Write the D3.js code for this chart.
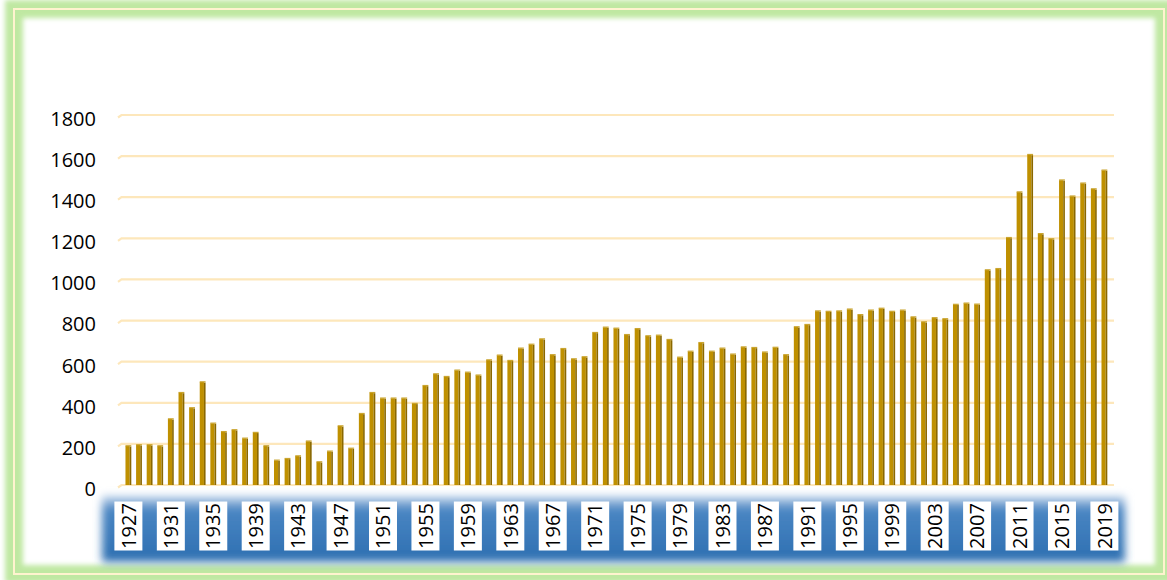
<!DOCTYPE html>
<html>
<head>
<meta charset="utf-8">
<script src="https://cdn.jsdelivr.net/npm/d3@7/dist/d3.min.js"></script>
<style>
  html, body { margin: 0; padding: 0; background: #ffffff; }
  svg { display: block; }
</style>
</head>
<body>
<div id="viz_container"></div>
<script>
// years shown on the axis, one bar each
var years = d3.range(1927, 2020);

// values, 1927 .. 2019
var counts = [
  190, 195, 195, 190, 321, 449, 375, 501, 300, 259,
  268, 227, 255, 190, 120, 128, 141, 213, 112, 164,
  287, 178, 347, 449, 422, 422, 422, 396, 483, 540,
  527, 558, 548, 534, 608, 631, 605, 665, 684, 710,
  633, 663, 613, 623, 741, 767, 762, 731, 760, 725,
  728, 707, 621, 650, 692, 650, 665, 636, 671, 668,
  646, 669, 633, 769, 780, 846, 844, 846, 855, 828,
  850, 859, 844, 850, 817, 793, 813, 808, 878, 884,
  879, 1046, 1052, 1203, 1425, 1607, 1222, 1197, 1483, 1405,
  1468, 1440, 1531
];

var yTicks = [0, 200, 400, 600, 800, 1000, 1200, 1400, 1600, 1800];
var xTickYears = years.filter(function (d) { return (d - 1927) % 4 === 0; });

var data = years.map(function (y, i) { return { year: y, value: counts[i] }; });

var width = 1167, height = 580;

var svg = d3.select("#viz_container").append("svg")
    .attr("width", width)
    .attr("height", height);

var defs = svg.append("defs");

defs.append("filter").attr("id", "soft")
    .attr("x", "-10%").attr("y", "-30%").attr("width", "120%").attr("height", "160%")
    .append("feGaussianBlur").attr("stdDeviation", 4.5);

defs.append("filter").attr("id", "glow")
    .attr("x", "-5%").attr("y", "-5%").attr("width", "110%").attr("height", "110%")
    .append("feGaussianBlur").attr("stdDeviation", 2.5);

var blueGrad = defs.append("linearGradient").attr("id", "blueGrad")
    .attr("x1", 0).attr("y1", 0).attr("x2", 0).attr("y2", 1);
blueGrad.append("stop").attr("offset", "0%").attr("stop-color", "#c6d9ee");
blueGrad.append("stop").attr("offset", "20%").attr("stop-color", "#4a86c3");
blueGrad.append("stop").attr("offset", "100%").attr("stop-color", "#2d6fb1");

// scales
var x = d3.scaleBand()
    .domain(years)
    .range([120.7, 1112.1])
    .padding(0.45);

var y = d3.scaleLinear()
    .domain([0, 1800])
    .range([485, 115]);

// outer frame with green glow
svg.append("rect")
    .attr("x", 14).attr("y", 9)
    .attr("width", 1150).attr("height", 565)
    .attr("fill", "none")
    .attr("stroke", "#bfe8a2")
    .attr("stroke-width", 18)
    .attr("filter", "url(#glow)");

svg.append("rect")
    .attr("x", 14).attr("y", 9)
    .attr("width", 1150).attr("height", 565)
    .attr("fill", "none")
    .attr("stroke", "#fff3cf")
    .attr("stroke-width", 2);

// gridlines with the little 3D hook on the left
svg.append("g").selectAll("path")
    .data(yTicks)
    .enter().append("path")
    .attr("d", function (d) {
        var yy = y(d);
        return "M118," + (yy + 2.5) + "L121.5," + yy + "L1114," + yy;
    })
    .attr("fill", "none")
    .attr("stroke", "#fde7bb")
    .attr("stroke-width", 2.2);

// y axis labels
var yAxis = d3.axisLeft(y).tickValues(yTicks).tickFormat(d3.format("d"))
    .tickSize(0).tickPadding(0);
var yg = svg.append("g")
    .attr("transform", "translate(96,4)")
    .call(yAxis);
yg.select(".domain").remove();
yg.selectAll("text")
    .style("font-family", "'Open Sans', sans-serif")
    .style("font-size", "20px")
    .attr("fill", "#000000");

// blue glow band behind the year labels
svg.append("rect")
    .attr("x", 102).attr("y", 496)
    .attr("width", 1023).attr("height", 66)
    .attr("fill", "url(#blueGrad)")
    .attr("filter", "url(#soft)");

// bars: front face, dark side, light top
var bars = svg.append("g").selectAll("g")
    .data(data)
    .enter().append("g");

var bw = x.bandwidth();

bars.append("rect")
    .attr("x", function (d) { return x(d.year); })
    .attr("y", function (d) { return y(d.value); })
    .attr("width", bw * 0.72)
    .attr("height", function (d) { return y(0) - y(d.value); })
    .attr("fill", "#bf9000");

bars.append("rect")
    .attr("x", function (d) { return x(d.year) + bw * 0.72; })
    .attr("y", function (d) { return y(d.value) + 0.5; })
    .attr("width", bw * 0.28)
    .attr("height", function (d) { return y(0) - y(d.value) - 0.5; })
    .attr("fill", "#8a6800");

bars.append("rect")
    .attr("x", function (d) { return x(d.year); })
    .attr("y", function (d) { return y(d.value) - 0.8; })
    .attr("width", bw)
    .attr("height", 1.2)
    .attr("fill", "#caa530");

// year labels in white boxes
var xl = svg.append("g").selectAll("g")
    .data(xTickYears)
    .enter().append("g")
    .attr("transform", function (d) {
        return "translate(" + (x(d) + bw / 2) + ",526)";
    });

xl.append("rect")
    .attr("x", -14).attr("y", -24.5)
    .attr("width", 28).attr("height", 49)
    .attr("fill", "#ffffff");

xl.append("text")
    .attr("transform", "rotate(-90)")
    .attr("text-anchor", "middle")
    .attr("dy", "0.36em")
    .style("font-family", "'Open Sans', sans-serif")
    .style("font-size", "20px")
    .attr("fill", "#000000")
    .text(function (d) { return d; });
</script>
</body>
</html>
